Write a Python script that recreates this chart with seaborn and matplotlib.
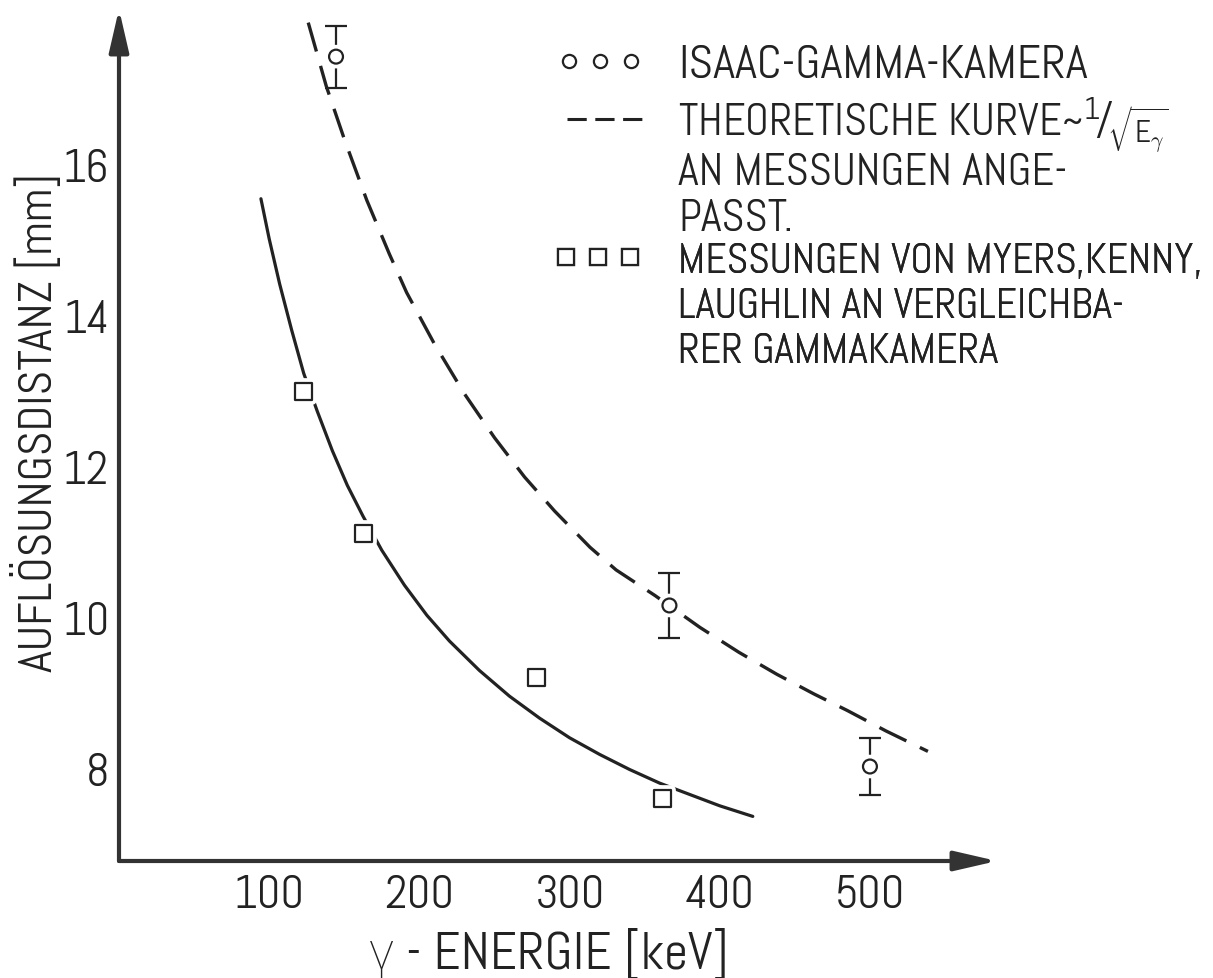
# Aufloesungsdistanz vs. gamma-Energie (ISAAC gamma camera)
import matplotlib
matplotlib.use("Agg")
import matplotlib.pyplot as plt
import matplotlib.patheffects as pe
from matplotlib.lines import Line2D
import seaborn as sns

# -------------------------------
# data
# -------------------------------
isaac_energy = [144.5, 366.5, 500]
isaac_dist = [17.64, 10.38, 8.25]
isaac_err = [0.41, 0.43, 0.38]

myers_energy = [123, 163, 278, 362]
myers_dist = [13.21, 11.33, 9.43, 7.83]

# dashed curve (theory ~ 1/sqrt(E), fitted to ISAAC points)
theory_energy = [126, 138, 150, 165, 180, 191.5, 210, 230, 250, 270, 290, 313.6,
                 331, 357, 386.8, 412.8, 438, 462.7, 485, 510.7, 538.6]
theory_dist = [18.09, 17.25, 16.55, 15.74, 15.03, 14.52, 13.84, 13.18, 12.60, 12.08,
               11.63, 11.15, 10.85, 10.51, 10.09, 9.76, 9.47, 9.21, 8.99, 8.72, 8.45]

# solid curve through the Myers et al. points
fit_energy = [94.5, 100, 107, 115, 123, 132, 142, 152, 162.5, 175, 190, 205, 220,
              240, 260, 280, 300, 320, 340, 360, 380, 400, 422]
fit_dist = [15.76, 15.23, 14.63, 14.02, 13.45, 12.95, 12.43, 11.97, 11.56, 11.11,
            10.65, 10.25, 9.91, 9.52, 9.18, 8.89, 8.63, 8.41, 8.21, 8.03, 7.88, 7.73, 7.59]

x_ticks = [100, 200, 300, 400, 500]
y_ticks = [8, 10, 12, 14, 16]

legend_isaac = ["ISAAC-GAMMA-KAMERA"]
legend_theory = [r"THEORETISCHE KURVE~$^{1}\!/\!_{\sqrt{E_{\gamma}}}$"]
legend_theory_cont = ["AN MESSUNGEN ANGE-", "PASST."]
legend_myers = ["MESSUNGEN VON MYERS,KENNY,", "LAUGHLIN AN VERGLEICHBA-",
                "RER GAMMAKAMERA"]

x_label = "γ - ENERGIE [keV]"
y_label = "AUFLÖSUNGSDISTANZ [mm]"

# -------------------------------
# style
# -------------------------------
sns.set_theme(style="white")
plt.rcParams["font.family"] = ["Abel", "Roboto", "DejaVu Sans"]
plt.rcParams["mathtext.fontset"] = "custom"
plt.rcParams["mathtext.rm"] = "Abel"
plt.rcParams["mathtext.it"] = "Abel"
plt.rcParams["mathtext.sf"] = "Abel"

ink = "#222222"
W, H = 1213, 979
fig = plt.figure(figsize=(W / 100, H / 100), dpi=100)
fig.patch.set_facecolor("white")
ax = fig.add_axes([119 / W, 1 - 862 / H, (997 - 119) / W, (862 - 10) / H])

# -------------------------------
# curves and points
# -------------------------------
sns.lineplot(x=fit_energy, y=fit_dist, ax=ax, color=ink, lw=2.3, sort=False, zorder=2)
sns.lineplot(x=theory_energy, y=theory_dist, ax=ax, color=ink, lw=2.4,
             linestyle=(0, (9, 4.5)), sort=False, zorder=2)

ax.errorbar(isaac_energy, isaac_dist, yerr=isaac_err, fmt="none", ecolor=ink,
            elinewidth=1.6, capsize=8, capthick=1.6, zorder=3)

halo = [pe.withStroke(linewidth=7, foreground="white")]
sns.scatterplot(x=isaac_energy, y=isaac_dist, ax=ax, marker="o", s=100,
                facecolor="white", edgecolor=ink, linewidth=1.6, zorder=4)
ax.collections[-1].set_path_effects(halo)
sns.scatterplot(x=myers_energy, y=myers_dist, ax=ax, marker="s", s=150,
                facecolor="white", edgecolor=ink, linewidth=1.6, zorder=4)
ax.collections[-1].set_path_effects(halo)

# -------------------------------
# axes: arrows instead of spines
# -------------------------------
ax.set_xlim(0, 584.6)
ax.set_ylim(7, 18.27)
for s in ax.spines.values():
    s.set_visible(False)

arrow = dict(arrowstyle="-|>,head_length=2.6,head_width=0.6", lw=3, color="#333333",
             shrinkA=0, shrinkB=0, mutation_scale=10)
ax.annotate("", xy=(1, 0), xytext=(0, 0), xycoords="axes fraction", arrowprops=arrow)
ax.annotate("", xy=(0, 1), xytext=(0, 0), xycoords="axes fraction", arrowprops=arrow)

ax.set_xticks(x_ticks)
ax.set_yticks(y_ticks)
ax.tick_params(axis="x", direction="in", length=14, width=2, color=ink,
               labelsize=33, labelcolor=ink, pad=9)
ax.tick_params(axis="y", direction="in", length=13, width=2, color=ink,
               labelsize=33, labelcolor=ink, pad=7)
for lab in ax.get_yticklabels():
    lab.set_verticalalignment("baseline")

ax.set_xlabel(x_label, fontsize=38, color=ink, fontweight="light")
ax.xaxis.set_label_coords(0.49, -0.078)
ax.set_ylabel(y_label, fontsize=34, color=ink)
ax.yaxis.set_label_coords(-0.066, 0.516)

# -------------------------------
# legend (blocks of rows, text starts at x = 678 px)
# -------------------------------
def add_block(handle, lines, top_px, hlen, hpad, npts, fs, spacing):
    fs_px = fs * 100 / 72
    left_px = 678 - (hlen + hpad) * fs_px
    blank = Line2D([], [], linestyle="none")
    if handle is None:
        handle = blank
    leg = ax.legend([handle] + [blank] * (len(lines) - 1), lines,
                    loc="upper left", bbox_to_anchor=(left_px / W, 1 - top_px / H),
                    bbox_transform=fig.transFigure, frameon=False, borderpad=0,
                    borderaxespad=0, handlelength=hlen, handletextpad=hpad,
                    labelspacing=spacing, fontsize=fs, numpoints=npts, labelcolor=ink)
    ax.add_artist(leg)

h_circ = Line2D([], [], linestyle="none", marker="o", ms=9.5, mfc="white", mec=ink, mew=1.6)
h_dash = Line2D([], [], color=ink, lw=2.2, linestyle=(0, (6.3, 2.8)))
h_sq = Line2D([], [], linestyle="none", marker="s", ms=11.5, mfc="white", mec=ink, mew=1.6)

add_block(h_circ, legend_isaac, 45, 1.9, 0.7, 3, 34, 0.0)
add_block(h_dash, legend_theory, 95, 1.69, 0.81, 1, 32, 0.0)
add_block(None, legend_theory_cont, 153, 1.69, 0.81, 1, 32, 0.11)
add_block(h_sq, legend_myers, 243, 2.14, 0.85, 3, 30, 0.15)

fig.savefig("out.png", dpi=100, facecolor="white")
